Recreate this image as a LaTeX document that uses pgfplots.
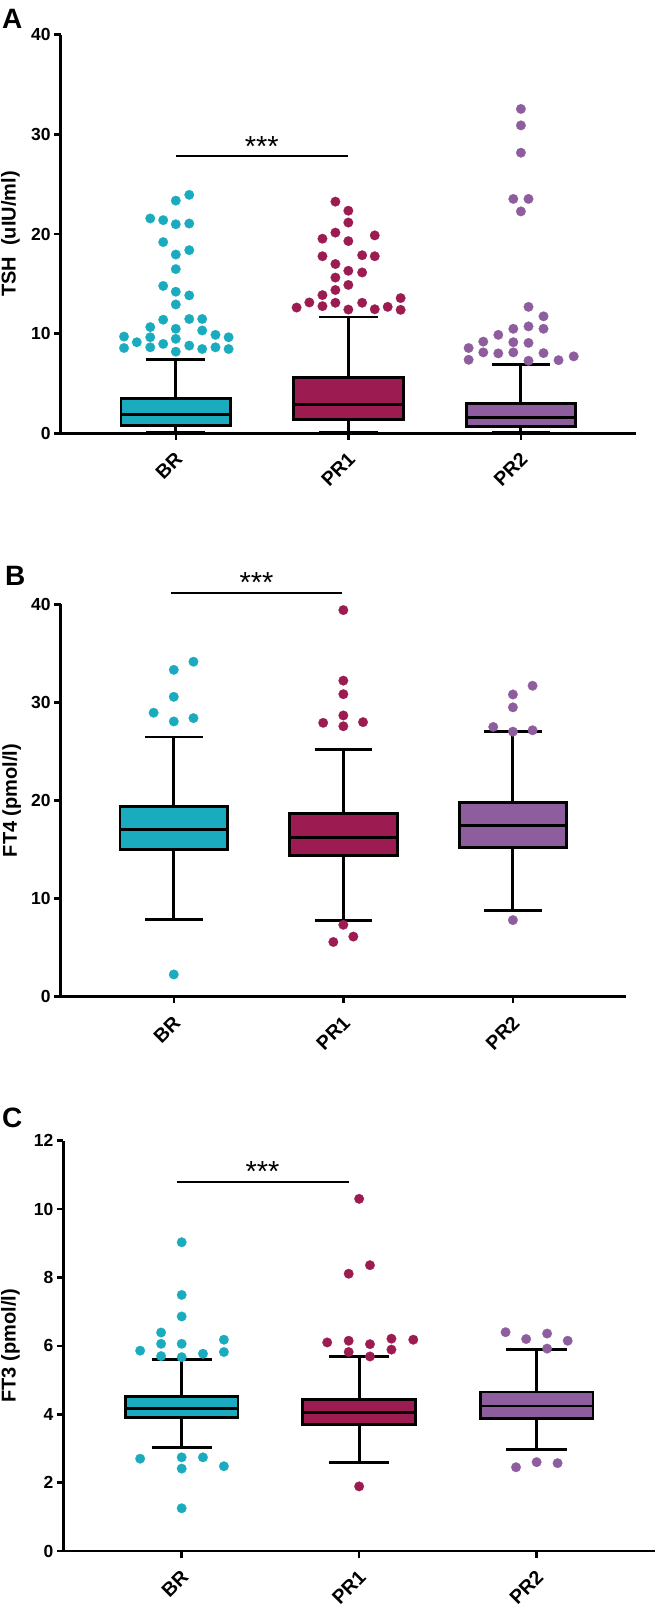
\documentclass[border=0pt]{standalone}
\usepackage{fontspec}
\setmainfont{Liberation Sans}
\usepackage{pgfplots}
\pgfplotsset{compat=1.18}
\usepgfplotslibrary{statistics}
\definecolor{cteal}{HTML}{1AACBE}
\definecolor{ccrim}{HTML}{9C1B50}
\definecolor{cpurp}{HTML}{8D5D9D}
\pgfplotsset{
  panel/.style={
    scale only axis,
    axis x line=bottom, axis y line=left,
    axis line style={line width=2.8pt,-},
    xmin=-0.667, xmax=2.667,
    xtick={0,1,2}, xticklabels={BR,PR1,PR2},
    tick align=outside,
    major tick length=6.5pt,
    every tick/.style={black, line width=2.5pt},
    minor tick num=0,
    /pgf/number format/assume math mode=true,
    yticklabel style={font=\fontsize{17.5}{17.5}\selectfont\bfseries},
    xticklabel style={xshift=8pt, yshift=-21pt, font=\fontsize{19.5}{19.5}\selectfont\bfseries, rotate=45, anchor=base east, inner sep=0pt},
    clip=false,
    every axis y label/.style={at={(axis description cs:0,0.5)}, rotate=90, anchor=center, font=\fontsize{20}{20}\selectfont\bfseries},
    boxplot/draw direction=y,
  },
  bx/.style={draw=black, line width=2.9pt, solid, fill=#1, mark=none},
  dots/.style={only marks, mark=*, mark size=4.8pt, color=#1, mark options={line width=0.2pt}},
}
\begin{document}
\begin{tikzpicture}
\path[use as bounding box] (0,0) rectangle (656pt,-1607pt);
\node[anchor=base west, inner sep=0pt, font=\fontsize{28}{28}\selectfont\bfseries] at (2pt,-28pt) {A};
\node[anchor=base west, inner sep=0pt, font=\fontsize{28}{28}\selectfont\bfseries] at (5pt,-585pt) {B};
\node[anchor=base west, inner sep=0pt, font=\fontsize{28}{28}\selectfont\bfseries] at (2pt,-1127pt) {C};

% ---------------- Panel A ----------------
\begin{axis}[panel, at={(60.7pt,-433.3pt)}, anchor=south west,
  width=575.3pt, height=398.6pt, ymin=0, ymax=40, ytick={0,10,20,30,40},
  ylabel={TSH\ \ (uIU/ml)}, every axis y label/.append style={yshift=50.2pt}]
\addplot[bx=cteal, boxplot prepared={draw position=0, lower whisker=0.05, lower quartile=0.78, median=1.93, upper quartile=3.49, upper whisker=7.45, box extend=0.635, whisker extend=0.34}] coordinates {};
\addplot[bx=ccrim, boxplot prepared={draw position=1, lower whisker=0.05, lower quartile=1.42, median=2.88, upper quartile=5.58, upper whisker=11.67, box extend=0.635, whisker extend=0.34}] coordinates {};
\addplot[bx=cpurp, boxplot prepared={draw position=2, lower whisker=0.05, lower quartile=0.68, median=1.62, upper quartile=3.01, upper whisker=6.87, box extend=0.635, whisker extend=0.34}] coordinates {};
\addplot[dots=cteal] coordinates {(0.078,23.93) (0,23.35) (-0.148,21.56) (-0.073,21.39) (0,20.98) (0.078,21.05) (-0.073,19.19) (0.078,18.38) (0,17.94) (0,16.48) (-0.073,14.79) (0,14.21) (0.078,13.84) (0,12.93) (-0.073,11.40) (0.078,11.47) (0.153,11.47) (-0.148,10.66) (0,10.49) (0.153,10.32) (-0.30,9.71) (-0.148,9.64) (0,9.48) (0.23,9.88) (0.306,9.64) (-0.226,9.14) (-0.073,8.97) (0.078,8.80) (-0.30,8.56) (-0.148,8.63) (0.153,8.46) (0.23,8.63) (0.306,8.46) (0,8.19)};
\addplot[dots=ccrim] coordinates {(0.925,23.25) (1,22.34) (1,21.15) (0.925,20.14) (0.85,19.53) (1.153,19.86) (1,19.29) (0.85,17.77) (1.08,17.87) (1.153,17.77) (0.925,16.99) (1,16.31) (1.08,16.14) (0.925,15.63) (1,14.89) (0.925,14.38) (0.85,13.87) (0.774,13.13) (0.70,12.62) (0.85,12.76) (0.925,13.10) (1.08,13.10) (1,12.42) (1.153,12.45) (1.228,12.69) (1.303,13.57) (1.303,12.39)};
\addplot[dots=cpurp] coordinates {(2,32.55) (2,30.90) (2,28.16) (1.956,23.52) (2.044,23.52) (2,22.27) (2.044,12.69) (2.131,11.74) (1.869,9.88) (1.956,10.49) (2.044,10.73) (2.131,10.49) (1.782,9.20) (1.956,9.14) (2.044,9.07) (1.697,8.56) (1.782,8.12) (1.869,8.02) (1.956,8.12) (2.131,8.05) (1.697,7.38) (2.044,7.28) (2.218,7.34) (2.306,7.72)};
\draw[line width=2pt] (axis cs:0,27.8) -- (axis cs:0.996,27.8);
\node[anchor=base, inner sep=0pt, font=\fontsize{29}{29}\selectfont] at (axis cs:0.498,27.8) {***};
\end{axis}

% ---------------- Panel B ----------------
\begin{axis}[panel, at={(60.7pt,-996.7pt)}, anchor=south west,
  width=565.3pt, height=392.4pt, ymin=0, ymax=40, ytick={0,10,20,30,40},
  ylabel={FT4 (pmol/l)}, every axis y label/.append style={yshift=49pt}]
\addplot[bx=cteal, boxplot prepared={draw position=0, lower whisker=7.88, lower quartile=14.97, median=17.04, upper quartile=19.41, upper whisker=26.47, box extend=0.635, whisker extend=0.34}] coordinates {};
\addplot[bx=ccrim, boxplot prepared={draw position=1, lower whisker=7.75, lower quartile=14.42, median=16.25, upper quartile=18.66, upper whisker=25.20, box extend=0.635, whisker extend=0.34}] coordinates {};
\addplot[bx=cpurp, boxplot prepared={draw position=2, lower whisker=8.78, lower quartile=15.22, median=17.42, upper quartile=19.79, upper whisker=26.99, box extend=0.635, whisker extend=0.34}] coordinates {};
\addplot[dots=cteal] coordinates {(0.116,34.15) (0,33.32) (0,30.57) (-0.119,28.95) (0,28.06) (0.116,28.40) (0,2.27)};
\addplot[dots=ccrim] coordinates {(1,39.41) (1,32.22) (1,30.84) (1,28.67) (0.881,27.92) (1.116,27.99) (1,27.57) (1,7.33) (1.059,6.13) (0.941,5.58)};
\addplot[dots=cpurp] coordinates {(2.116,31.70) (2,30.81) (2,29.50) (1.884,27.50) (2,27.02) (2.116,27.16) (2,7.81)};
\draw[line width=2pt] (axis cs:-0.016,41.2) -- (axis cs:0.992,41.2);
\node[anchor=base, inner sep=0pt, font=\fontsize{29}{29}\selectfont] at (axis cs:0.488,41.2) {***};
\end{axis}

% ---------------- Panel C ----------------
\begin{axis}[panel, at={(63.3pt,-1551pt)}, anchor=south west,
  width=591.7pt, height=410.3pt, ymin=0, ymax=12, ytick={0,2,4,6,8,10,12},
  ylabel={FT3 (pmol/l)}, every axis y label/.append style={yshift=52.8pt}]
\addplot[bx=cteal, boxplot prepared={draw position=0, lower whisker=3.04, lower quartile=3.90, median=4.18, upper quartile=4.53, upper whisker=5.60, box extend=0.635, whisker extend=0.34}] coordinates {};
\addplot[bx=ccrim, boxplot prepared={draw position=1, lower whisker=2.59, lower quartile=3.70, median=4.06, upper quartile=4.44, upper whisker=5.68, box extend=0.635, whisker extend=0.34}] coordinates {};
\addplot[bx=cpurp, boxplot prepared={draw position=2, lower whisker=2.96, lower quartile=3.88, median=4.24, upper quartile=4.65, upper whisker=5.90, box extend=0.635, whisker extend=0.34}] coordinates {};
\addplot[dots=cteal] coordinates {(0,9.03) (0,7.49) (0,6.86) (-0.116,6.39) (-0.116,6.06) (0,6.06) (0.238,6.18) (-0.234,5.86) (0.238,5.82) (-0.116,5.70) (0,5.67) (0.12,5.77) (-0.234,2.70) (0,2.74) (0.12,2.74) (0,2.41) (0.238,2.48) (0,1.25)};
\addplot[dots=ccrim] coordinates {(1,10.30) (1.061,8.36) (0.941,8.11) (0.82,6.10) (0.941,6.15) (1.061,6.05) (1.182,6.21) (1.305,6.18) (0.941,5.82) (1.182,5.89) (1.061,5.69) (1,1.89)};
\addplot[dots=cpurp] coordinates {(1.825,6.40) (2.059,6.36) (1.941,6.20) (2.175,6.15) (2.059,5.92) (1.884,2.45) (2,2.60) (2.118,2.57)};
\draw[line width=2pt] (axis cs:-0.027,10.8) -- (axis cs:0.94,10.8);
\node[anchor=base, inner sep=0pt, font=\fontsize{29}{29}\selectfont] at (axis cs:0.456,10.8) {***};
\end{axis}
\end{tikzpicture}
\end{document}
